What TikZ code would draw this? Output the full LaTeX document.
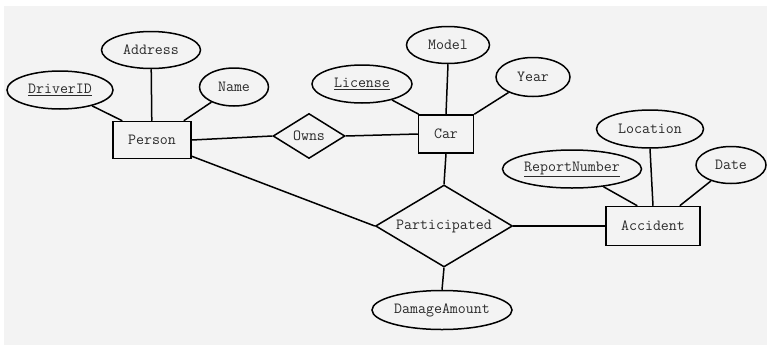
\documentclass[tikz,border=0pt]{standalone}
\usepackage{fontspec}
\usetikzlibrary{shapes.geometric}
\definecolor{bg}{HTML}{F3F3F3}
\definecolor{txt}{HTML}{2A2A2A}
\begin{document}
\begin{tikzpicture}[x=1pt,y=-1pt,
  every node/.style={font=\ttfamily\fontsize{15.5}{17}\selectfont, text=txt, draw=black, line width=1.5pt, inner sep=0pt},
  entity/.style={rectangle},
  attr/.style={ellipse},
  rel/.style={diamond},
  link/.style={line width=1.5pt, draw=black}]
\useasboundingbox (0,0) rectangle (767,351);
\fill[bg] (4,6) rectangle (767,345);
% entities
\node[entity, minimum width=78pt, minimum height=37pt] (person) at (152,140) {Person};
\node[entity, minimum width=55pt, minimum height=38pt] (car) at (446,134) {Car};
\node[entity, minimum width=94pt, minimum height=39pt] (accident) at (653,226) {Accident};
% relationships
\node[rel, aspect=1.6, minimum width=72pt, minimum height=45pt] (owns) at (309,136) {Owns};
\node[rel, aspect=1.67, minimum width=137pt, minimum height=82pt] (part) at (444,226) {Participated};
% attributes
\node[attr, minimum width=99pt, minimum height=37pt] (address) at (151,50) {Address};
\node[attr, minimum width=106pt, minimum height=38pt] (driverid) at (60,90) {\underline{DriverID}};
\node[attr, minimum width=69pt, minimum height=38pt] (name) at (234,87) {Name};
\node[attr, minimum width=100pt, minimum height=38pt] (license) at (362,84) {\underline{License}};
\node[attr, minimum width=83pt, minimum height=37pt] (model) at (448,45) {Model};
\node[attr, minimum width=74pt, minimum height=39pt] (year) at (533,77) {Year};
\node[attr, minimum width=107pt, minimum height=38pt] (location) at (650,129) {Location};
\node[attr, minimum width=139pt, minimum height=38pt] (report) at (572,169) {\underline{ReportNumber}};
\node[attr, minimum width=70pt, minimum height=37pt] (date) at (731,165) {Date};
\node[attr, minimum width=140pt, minimum height=39pt] (damage) at (442,310) {DamageAmount};
% connectors
\draw[link] (driverid) -- ([xshift=10pt]person.north west);
\draw[link] (address) -- (person);
\draw[link] (name) -- ([xshift=-8pt]person.north east);
\draw[link] (person.east) -- (owns.west);
\draw[link] (owns.east) -- (car.west);
\draw[link] ([yshift=3pt]person.south east) -- (part.west);
\draw[link] (license) -- ([xshift=1pt]car.north west);
\draw[link] (model.south) -- (car.north);
\draw[link] (year) -- (car.north east);
\draw[link] (car.south) -- (part.north);
\draw[link] (part.east) -- (accident.west);
\draw[link] (report) -- ([xshift=32pt]accident.north west);
\draw[link] (location.south) -- (accident.north);
\draw[link] (date) -- ([xshift=-21pt]accident.north east);
\draw[link] (part.south) -- (damage.north);
\end{tikzpicture}
\end{document}
